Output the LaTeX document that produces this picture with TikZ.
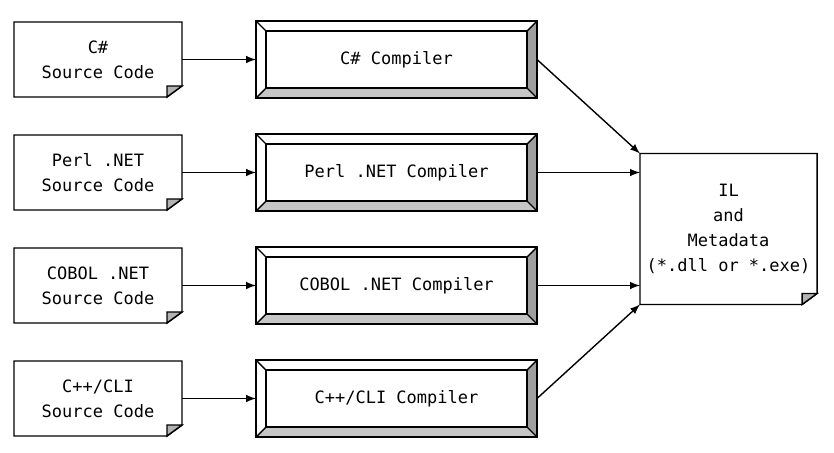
\documentclass[tikz,border=0pt]{standalone}
\usepackage{fontspec}
\newfontfamily\codefont{DejaVu Sans Mono}
\usetikzlibrary{positioning}

\tikzset{
  src/.style={minimum width=84pt, minimum height=37.5pt, align=center, outer sep=0pt},
  comp/.style={minimum width=140.5pt, minimum height=38.5pt, align=center, outer sep=0pt},
  ilbox/.style={minimum width=86.5pt, minimum height=75.5pt, align=center, outer sep=0pt},
}

% page with a folded corner
\newcommand{\foldbox}[1]{%
  \draw (#1.north west) -- (#1.north east) -- ([yshift=5.5pt]#1.south east)
    -- ([xshift=-7.5pt]#1.south east) -- (#1.south west) -- cycle;
  \draw [fill=gray!60] ([yshift=5.5pt]#1.south east) -- ([xshift=-7.5pt,yshift=5.5pt]#1.south east)
    -- ([xshift=-7.5pt]#1.south east) -- cycle;}

% raised button frame
\newcommand{\bevelbox}[1]{%
  \fill [gray!45] (#1.south west) -- ([shift={(5pt,5pt)}]#1.south west)
    -- ([shift={(-5pt,5pt)}]#1.south east) -- (#1.south east) -- cycle;
  \fill [gray!75] (#1.south east) -- ([shift={(-5pt,5pt)}]#1.south east)
    -- ([shift={(-5pt,-5pt)}]#1.north east) -- (#1.north east) -- cycle;
  \draw (#1.north west) rectangle (#1.south east);
  \draw ([shift={(5pt,-5pt)}]#1.north west) rectangle ([shift={(-5pt,5pt)}]#1.south east);
  \draw (#1.north west) -- ++(5pt,-5pt);
  \draw (#1.north east) -- ++(-5pt,-5pt);
  \draw (#1.south east) -- ++(-5pt,5pt);
  \draw (#1.south west) -- ++(5pt,5pt);}

\begin{document}
\begin{tikzpicture}[line width=0.7pt, font=\codefont\fontsize{8.5}{12.5}\selectfont]
            \useasboundingbox (-49pt,29.75pt) rectangle (368pt,-196.25pt);

            \node (1) [src] at (0,0) {C\#\\Source Code};
            \node (2) [comp, node distance=149.25pt, right of=1] {C\# Compiler};

            \node (3) [src, node distance=56.5pt, below of=1] {Perl .NET\\Source Code};
            \node (4) [comp, node distance=149.25pt, right of=3] {Perl .NET Compiler};

            \node (5) [src, node distance=56.5pt, below of=3] {COBOL .NET\\Source Code};
            \node (6) [comp, node distance=149.25pt, right of=5] {COBOL .NET Compiler};

            \node (7) [src, node distance=56.5pt, below of=5] {C++/CLI\\Source Code};
            \node (8) [comp, node distance=149.25pt, right of=7] {C++/CLI Compiler};

            \node (9) [ilbox, node distance=166pt, right of=4, yshift=-28.25pt] {IL\\and\\Metadata\\(*.dll or *.exe)};

            \foldbox{1}
            \foldbox{3}
            \foldbox{5}
            \foldbox{7}
            \foldbox{9}

            \bevelbox{2}
            \bevelbox{4}
            \bevelbox{6}
            \bevelbox{8}

            \draw [-latex] (1) to (2);
            \draw [-latex] (3) to (4);
            \draw [-latex] (5) to (6);
            \draw [-latex] (7) to (8);

            \draw [-latex] (2.east) to (9.north west);
            \draw [-latex] (4.east) to (4.east -| 9.west);
            \draw [-latex] (6.east) to (6.east -| 9.west);
            \draw [-latex] (8.east) to (9.south west);
        \end{tikzpicture}
\end{document}
